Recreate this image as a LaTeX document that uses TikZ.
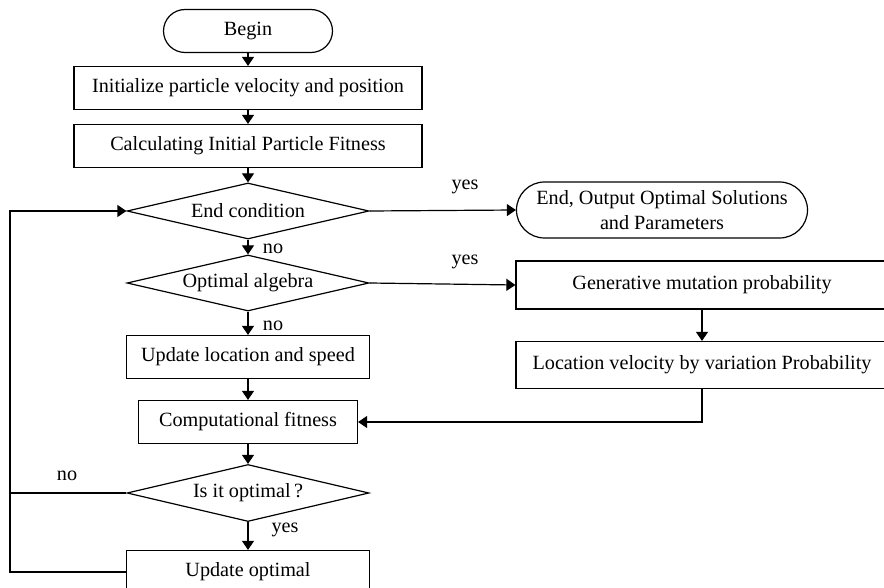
\documentclass[tikz,border=0pt]{standalone}
\usepackage{fontspec}
\setmainfont{Liberation Serif}
\usetikzlibrary{arrows.meta,shapes.geometric}
\tikzset{
%Define standard arrow tip
    >={Triangle[length=4.5pt,width=6pt]},
%Define style for boxes
    punkt/.style={
           rectangle,
           draw=black, line width=0.6pt,
           minimum height=21.5pt,
           inner sep=0pt,
           text centered},
    termin/.style={
           rectangle,
           rounded corners=10.75pt,
           draw=black, line width=0.6pt,
           minimum height=21.5pt,
           inner sep=0pt,
           align=center},
    valg/.style={
           diamond,
           aspect=4.3,
           draw=black, line width=0.6pt,
           minimum width=121pt,
           minimum height=28pt,
           inner sep=0pt,
           text centered},
% Define arrow style
    pil/.style={
           ->,
           line width=0.6pt},
    linje/.style={
           -,
           line width=0.6pt}
}

\begin{document}
\begin{tikzpicture}[x=0.5pt, y=-0.5pt, font=\fontsize{10.1}{12.5}\selectfont]
 \useasboundingbox (0,0) rectangle (884,588);
 \clip (0,0) rectangle (884,588);
 \node [termin, minimum width=84.5pt] (begin) at (248,31) {Begin};
 \node [punkt, minimum width=174pt] (init) at (248,88) {Initialize particle velocity and position};
 \node [punkt, minimum width=174pt] (calc) at (248,146) {Calculating Initial Particle Fitness};
 \node [valg] (endc) at (248,211) {End condition};
 \node [valg] (optalg) at (248,283) {Optimal algebra};
 \node [punkt, minimum width=121.5pt] (upd) at (248,357) {Update location and speed};
 \node [punkt, minimum width=109.5pt] (comp) at (248,422) {Computational fitness};
 \node [valg, minimum height=28.5pt] (isopt) at (248,493) {Is it optimal\,?};
 \node [punkt, minimum width=121.5pt] (updopt) at (248,572) {Update optimal};
 \node [termin, minimum width=145.5pt, minimum height=28pt, rounded corners=14pt] (endout) at (662,210)
   {End, Output Optimal Solutions\\and Parameters};
 \node [punkt, minimum width=186pt, minimum height=24pt] (gen) at (702,285) {Generative mutation probability};
 \node [punkt, minimum width=186pt, minimum height=23.5pt] (loc) at (702,365) {Location velocity by variation Probability};
% labels
 \node (yes1) at (465,187) {yes};
 \node (yes2) at (465,262) {yes};
 \node (no1) at (273,249) {no};
 \node (no2) at (273,326) {no};
 \node (no3) at (67,476) {no};
 \node (yes3) at (285,530) {yes};
% connectors
 \coordinate (loop) at (10,211);
 \draw [pil] (begin) -- (init);
 \draw [pil] (init) -- (calc);
 \draw [pil] (calc) -- (endc);
 \draw [pil] (endc) -- (optalg);
 \draw [pil] (optalg) -- (upd);
 \draw [pil] (upd) -- (comp);
 \draw [pil] (comp) -- (isopt);
 \draw [pil] (isopt) -- (updopt);
 \draw [pil] (endc.east) -- (endout.west);
 \draw [pil] (optalg.east) -- (gen.west);
 \draw [pil] (gen.south) -- (loc.north);
 \draw [pil] (loc.south) |- (comp.east);
 \draw [pil] (updopt.west) -| (loop) -- (endc.west);
 \draw [linje] (isopt.west) -- (isopt.west -| loop);
\end{tikzpicture}
\end{document}
